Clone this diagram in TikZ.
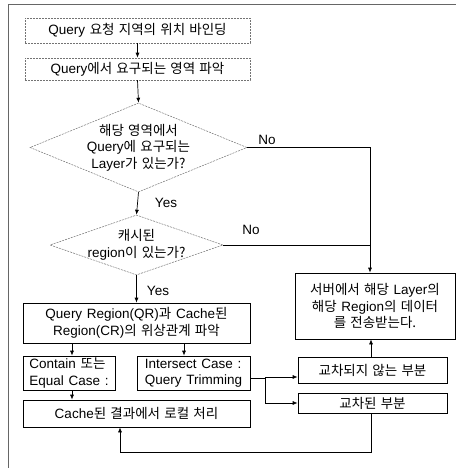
\documentclass[tikz,border=0pt]{standalone}
\usepackage{fontspec}
\setmainfont{Liberation Sans}[WordSpace=1.25]
\newfontfamily\krf{Noto Sans CJK KR}[WordSpace=1.4]
\newcommand\kr[1]{{\krf #1}}
\usetikzlibrary{shapes.geometric,arrows.meta}
\begin{document}
\begin{tikzpicture}[x=1pt,y=-1pt,
  every node/.style={font=\fontsize{13.5}{16.5}\selectfont},
  box/.style={draw, line width=0.7pt, rectangle, inner sep=0pt, align=center},
  faint/.style={draw=black!55, line width=0.5pt, dash pattern=on 2pt off 1pt},
  fbox/.style={faint, rectangle, inner sep=0pt, align=center},
  dia/.style={faint, diamond, inner sep=0pt},
  lbl/.style={inner sep=0pt},
  conn/.style={line width=0.7pt},
  arr/.style={conn, -{Latex[length=5pt,width=4pt]}}]
\useasboundingbox (0,0) rectangle (456,468);
% frame
\draw[black!60, line width=0.6pt] (8,468) -- (8,4) -- (456,4);
% nodes
\node[fbox, minimum width=225, minimum height=25] (b1) at (137.5,30.5) {Query \kr{요청 지역의 위치 바인딩}};
\node[fbox, minimum width=225, minimum height=22] (b2) at (137.5,69) {Query\kr{에서 요구되는 영역 파악}};
\node[dia, minimum width=217, minimum height=89] (d1) at (138.5,147.5) {};
\node[lbl, align=center] (d1t) at (138.5,147.5) {\kr{해당 영역에서}\\Query\kr{에 요구되는}\\Layer\kr{가 있는가?}};
\node[dia, minimum width=173, minimum height=60] (d2) at (136.5,245) {};
\node[lbl, align=center] (d2t) at (136.5,245) {\kr{캐시된}\\region\kr{이 있는가?}};
\node[box, minimum width=160, minimum height=66] (s) at (375,306) {\kr{서버에서 해당} Layer\kr{의}\\\kr{해당} Region\kr{의 데이터}\\\kr{를 전송받는다.}};
\node[box, minimum width=227, minimum height=40] (b3) at (136.5,323) {Query Region(QR)\kr{과} Cache\kr{된}\\Region(CR)\kr{의 위상관계 파악}};
\node[box, minimum width=92, minimum height=34, align=left] (b4) at (69,373) {Contain \kr{또는}\\Equal Case :};
\node[box, minimum width=113, minimum height=34, align=left] (b5) at (193.5,373) {Intersect Case :\\Query Trimming};
\node[box, minimum width=227, minimum height=27] (b6) at (136.5,413.5) {Cache\kr{된 결과에서 로컬 처리}};
\node[box, minimum width=149, minimum height=26] (b7) at (372.5,370) {\kr{교차되지 않는 부분}};
\node[box, minimum width=149, minimum height=20] (b8) at (372.5,403) {\kr{교차된 부분}};
% labels
\node[lbl] (no1) at (267,140) {No};
\node[lbl] (no2) at (251,230) {No};
\node[lbl] (yes1) at (166,203) {Yes};
\node[lbl] (yes2) at (158,291) {Yes};
% coordinates
\coordinate (sn) at ([xshift=-5pt]s.north);
\coordinate (jx) at (265,378);
% connectors
\draw[arr] (b1) -- (b2);
\draw[arr] (b2.south) -- (d1.north);
\draw[arr] (d1.south) -- (d2.north);
\draw[arr] (d2.south) -- (b3.north);
\draw[arr] (d1.east) -| (sn);
\draw[conn] (d2.east) -- (d2.east -| sn);
\draw[arr] ([xshift=3pt]b4.north |- b3.south) -- ([xshift=3pt]b4.north);
\draw[arr] ([xshift=-9.5pt]b5.north |- b3.south) -- ([xshift=-9.5pt]b5.north);
\draw[arr] ([xshift=3pt]b4.south) -- ([xshift=3pt]b4.south |- b6.north);
\draw[conn] (b5.east |- jx) -- (jx);
\draw[arr] (jx) |- ([yshift=-7pt]b7.west);
\draw[arr] (jx) |- (b8.west);
\draw[arr] ([xshift=-1.5pt]b7.north) -- ([xshift=-1.5pt]b7.north |- s.south);
\draw[arr] ([xshift=-1.5pt]b8.south) -- ++(0,39) -| ([xshift=-16.5pt]b6.south);
\end{tikzpicture}
\end{document}
